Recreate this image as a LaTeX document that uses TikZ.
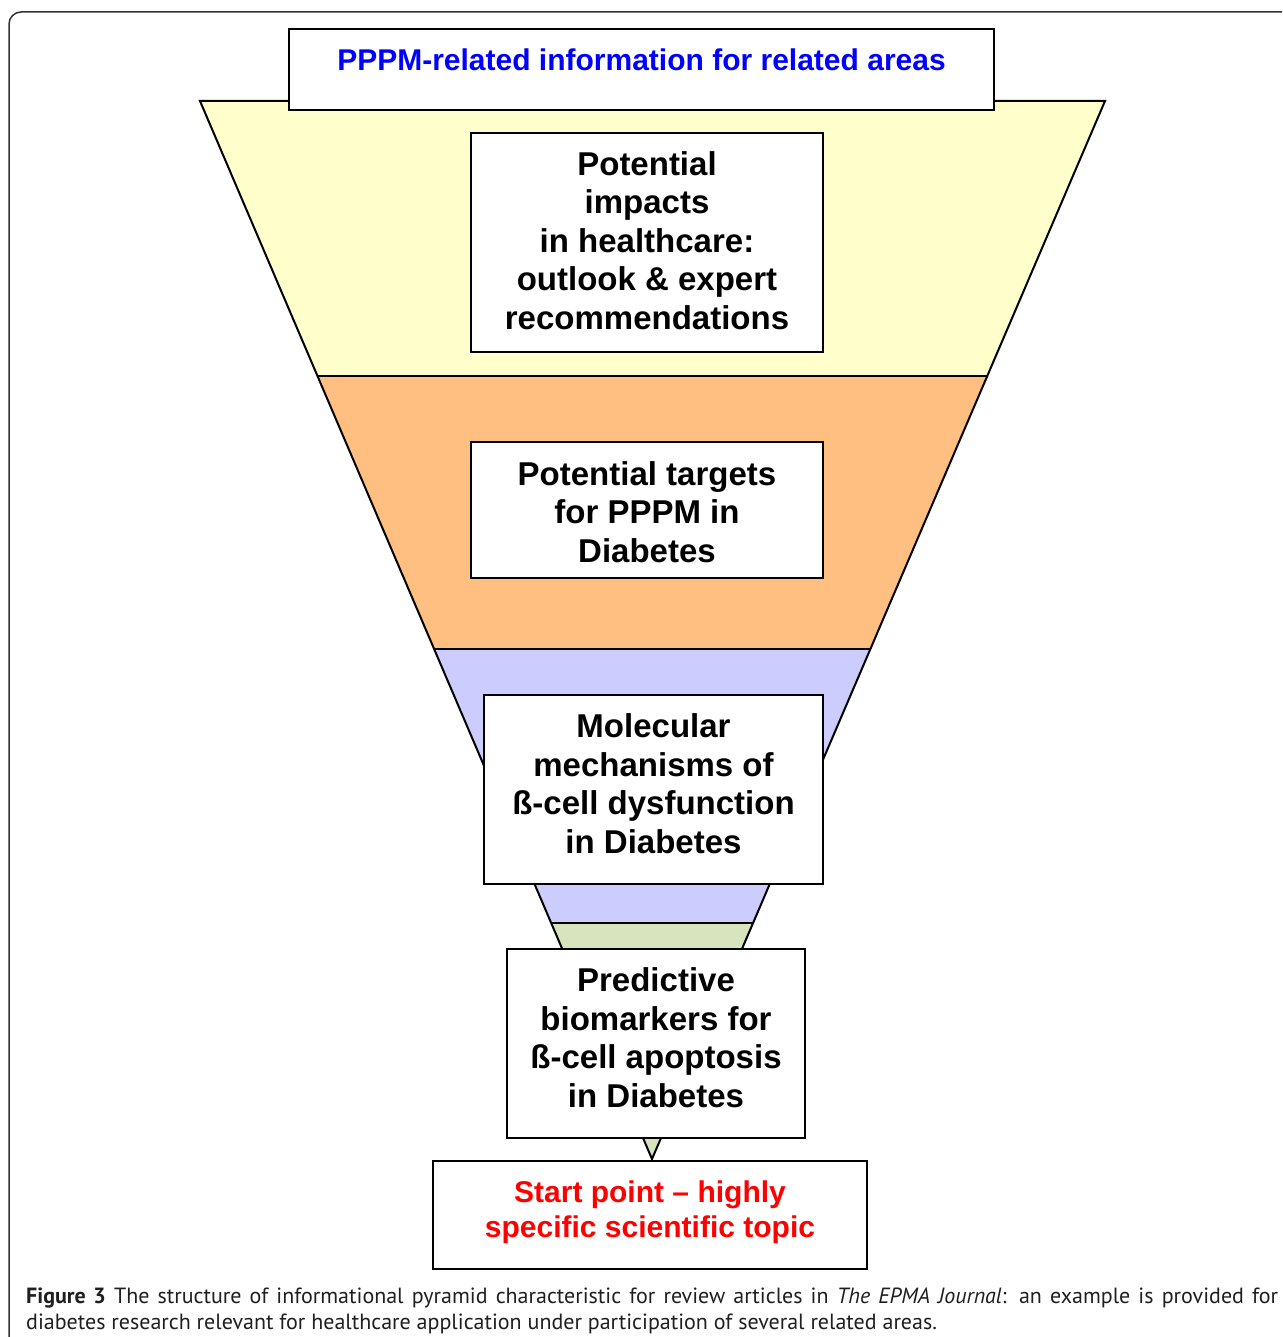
\documentclass[tikz,border=0pt]{standalone}
\usepackage{fontspec}
\setmainfont{Liberation Sans}
\newfontfamily\capfont{PT Sans}
\definecolor{bandyellow}{HTML}{FFFFCC}
\definecolor{bandorange}{HTML}{FFBF80}
\definecolor{bandblue}{HTML}{CCCCFF}
\definecolor{bandgreen}{HTML}{D7E4BD}
\definecolor{titleblue}{HTML}{0000FF}
\definecolor{startred}{HTML}{FF0000}
\definecolor{framegray}{HTML}{333333}
\newcommand{\boxlines}[2]{\raisebox{#1}[0pt][0pt]{\begin{tabular}{@{}c@{}}#2\end{tabular}}}
\tikzset{
  band/.style={draw=black, line width=2pt, line join=miter},
  infobox/.style={draw=black, fill=white, line width=2pt, align=center, inner sep=0pt,
    font=\fontsize{33}{38.5}\selectfont\bfseries},
  redbox/.style={infobox, text=startred, font=\fontsize{30}{35}\selectfont\bfseries},
}
\begin{document}
\begin{tikzpicture}[x=1pt,y=-1pt]
\useasboundingbox (0,0) rectangle (1282,1337);
% frame
\draw[framegray, line width=1.5pt, rounded corners=12pt] (1282,12) -- (9,12) -- (9,1337);
% funnel bands
\fill[bandyellow] (200,101) -- (1105,101) -- (987.5,376) -- (317.5,376) -- cycle;
\fill[bandorange] (317.5,376) -- (987.5,376) -- (870.9,649) -- (434.1,649) -- cycle;
\fill[bandblue] (434.1,649) -- (870.9,649) -- (753.9,923) -- (551.1,923) -- cycle;
\fill[bandgreen] (551.1,923) -- (753.9,923) -- (652,1159) -- cycle;
\draw[band] (200,101) -- (1105,101) -- (652,1159) -- cycle;
\draw[band] (317.5,376) -- (987.5,376);
\draw[band] (434.1,649) -- (870.9,649);
\draw[band] (551.1,923) -- (753.9,923);
% boxes
\node[infobox, minimum width=705pt, minimum height=81pt, text=titleblue,
  font=\fontsize{30}{35}\selectfont\bfseries] (title) at (641.5,69.5)
  {\boxlines{-0.5pt}{PPPM-related information for related areas}};
\node[infobox, minimum width=352pt, minimum height=219pt] (impacts) at (647,242.5)
  {\boxlines{-8.25pt}{Potential\\impacts\\in healthcare:\\outlook \& expert\\recommendations}};
\node[infobox, minimum width=352pt, minimum height=136pt] (targets) at (647,510)
  {\boxlines{-12.25pt}{Potential targets\\for PPPM in\\Diabetes}};
\node[infobox, minimum width=339pt, minimum height=189pt] (molecular) at (653.5,789.5)
  {\boxlines{-4.75pt}{Molecular\\mechanisms of\\ß-cell dysfunction\\in Diabetes}};
\node[infobox, minimum width=298pt, minimum height=189pt] (predictive) at (656,1043.5)
  {\boxlines{-4.75pt}{Predictive\\biomarkers for\\ß-cell apoptosis\\in Diabetes}};
\node[redbox, minimum width=434pt, minimum height=108pt] (start) at (650,1215)
  {\boxlines{-4.5pt}{Start point – highly\\specific scientific topic}};
% caption
\node[anchor=north west, inner sep=0pt, text width=1252pt, align=justify,
  font=\capfont\fontsize{22}{26}\selectfont, text=black!88] (caption) at (26,1288)
  {\textbf{Figure 3} The structure of informational pyramid characteristic for review articles in \textit{The EPMA Journal}: an example is provided for diabetes research relevant for healthcare application under participation of several related areas.};
\end{tikzpicture}
\end{document}
